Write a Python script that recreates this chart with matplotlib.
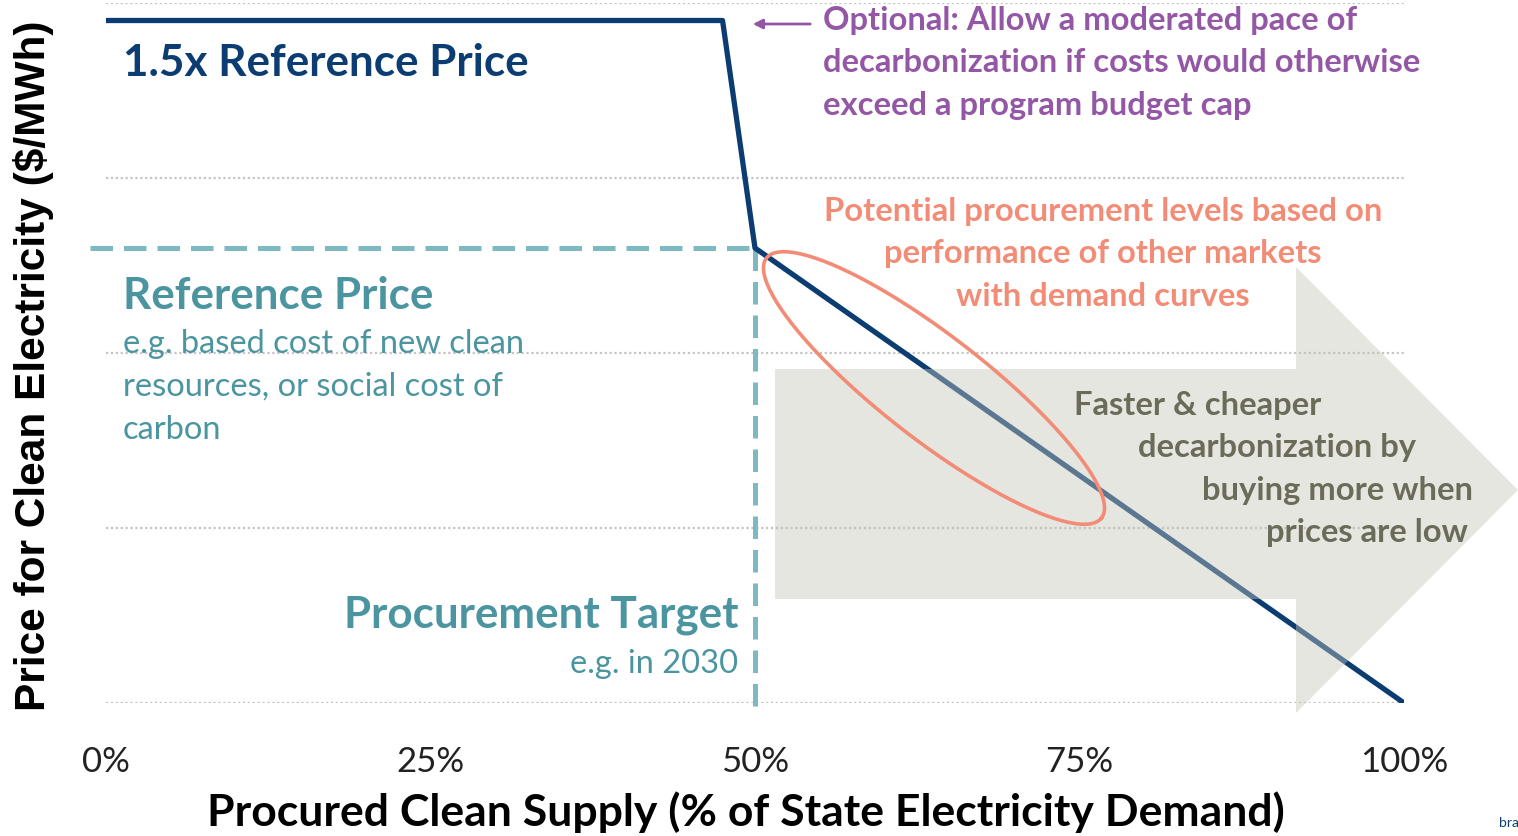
import matplotlib
matplotlib.use("Agg")
import matplotlib.pyplot as plt
from matplotlib.patches import Polygon
import numpy as np

# demand curve: procured clean supply (% of demand) vs price (grid units)
supply = [0, 47.5, 50, 100]
price = [3.9, 3.9, 2.6, 0]
ref_price = 2.6
target = 50
grid_levels = [0, 1, 2, 3, 4]
xticks = [0, 25, 50, 75, 100]
xtick_labels = ["0%", "25%", "50%", "75%", "100%"]

NAVY = "#0b3d73"
TEAL = "#4a95a0"
TEAL_DASH = "#7db9c1"
PURPLE = "#9457a5"
SALMON = "#f28c76"
GREY_TXT = "#6a6b59"

W, H = 1518, 837
fig = plt.figure(figsize=(W / 100, H / 100), dpi=100)
ax = fig.add_axes([106 / W, 133 / H, 1298 / W, 700 / H])
ax.set_xlim(0, 100)
ax.set_ylim(0, 4)
for s in ax.spines.values():
    s.set_visible(False)

# pixel -> data helpers for annotations
def dx(px):
    return (px - 106) / 12.98

def dy(py):
    return (704 - py) / 175.0

ax.set_yticks(grid_levels)
ax.set_yticklabels([])
ax.yaxis.grid(True, linestyle=(0, (1, 1.2)), color="#c4c4c4", linewidth=1.6)
ax.set_xticks(xticks)
ax.set_xticklabels(xtick_labels, family="Lato", fontsize=25, color="#222222")
ax.tick_params(length=0, pad=30)
ax.set_axisbelow(True)

ax.set_ylabel("Price for Clean Electricity ($/MWh)", family="Liberation Sans",
              fontweight="bold", fontsize=30.5, color="black")
ax.yaxis.set_label_coords((34 - 106) / 1298, 0.483)
ax.yaxis.label.set_va("center")
ax.set_xlabel("Procured Clean Supply (% of State Electricity Demand)", family="Lato",
              fontweight="bold", fontsize=32, color="black")
ax.xaxis.set_label_coords(0.493, (704 - 812) / 700)
ax.xaxis.label.set_va("center")

# dashed reference lines
ax.plot([dx(90), target], [ref_price, ref_price], color=TEAL_DASH, lw=3.6,
        dashes=(4.5, 2.2), clip_on=False, zorder=2)
ax.plot([target, target], [ref_price, dy(712)], color=TEAL_DASH, lw=3.6,
        dashes=(4.5, 2.2), clip_on=False, zorder=2)

# demand curve
ax.plot(supply, price, color=NAVY, lw=3.8, solid_capstyle="butt", zorder=3)

# translucent grey arrow over the curve
arrow = [(dx(775), dy(370)), (dx(1296), dy(370)), (dx(1296), dy(268)),
         (dx(1518), dy(491)), (dx(1296), dy(714)), (dx(1296), dy(600)),
         (dx(775), dy(600))]
ax.add_patch(Polygon(arrow, closed=True, facecolor="#c5c5b9", alpha=0.43,
                     edgecolor="none", clip_on=False, zorder=4))

# ellipse around potential procurement levels (drawn in pixel space)
t = np.linspace(0, 2 * np.pi, 200)
ang = np.deg2rad(37.8)
cx, cy, a, b = 934, 389, 212, 52
ex = cx + a * np.cos(t) * np.cos(ang) - b * np.sin(t) * np.sin(ang)
ey = cy + a * np.cos(t) * np.sin(ang) + b * np.sin(t) * np.cos(ang)
ax.plot(dx(ex), dy(ey), color=SALMON, lw=2.6, zorder=5)

# purple arrow
ax.annotate("", xy=(dx(750), dy(25)), xytext=(dx(813), dy(25)),
            arrowprops=dict(arrowstyle="-|>", color=PURPLE, lw=2, mutation_scale=14),
            annotation_clip=False)

tk = dict(family="Lato", zorder=6, clip_on=False)
ax.text(dx(123), dy(63), "1.5x Reference Price", color=NAVY, fontsize=31.7,
        fontweight="bold", va="center", ha="left", **tk)
ax.text(dx(823), dy(63), "Optional: Allow a moderated pace of\n"
        "decarbonization if costs would otherwise\nexceed a program budget cap",
        color=PURPLE, fontsize=23.6, fontweight="bold", va="center", ha="left",
        linespacing=1.55, **tk)
ax.text(dx(1103), dy(254), "Potential procurement levels based on\n"
        "performance of other markets\nwith demand curves",
        color=SALMON, fontsize=23.6, fontweight="bold", va="center", ha="center",
        linespacing=1.55, **tk)
ax.text(dx(123), dy(296), "Reference Price", color=TEAL, fontsize=31.7,
        fontweight="bold", va="center", ha="left", **tk)
ax.text(dx(123), dy(387), "e.g. based cost of new clean\nresources, or social cost of\ncarbon",
        color=TEAL, fontsize=23.5, va="center", ha="left", linespacing=1.55, **tk)
ax.text(dx(738), dy(615), "Procurement Target", color=TEAL, fontsize=31.7,
        fontweight="bold", va="center", ha="right", **tk)
ax.text(dx(738), dy(664), "e.g. in 2030", color=TEAL, fontsize=23.5,
        va="center", ha="right", **tk)

faster = [("Faster & cheaper", 1074, 406), ("decarbonization by", 1138, 448),
          ("buying more when", 1202, 491), ("prices are low", 1266, 533)]
for s, px, py in faster:
    ax.text(dx(px), dy(py), s, color=GREY_TXT, fontsize=23.6, fontweight="bold",
            va="center", ha="left", **tk)

fig.text(1499 / W, 1 - 823 / H, "bra", color=NAVY, fontsize=10,
         family="Lato", va="center", ha="left")

fig.savefig("out.png", dpi=100, facecolor="white")
